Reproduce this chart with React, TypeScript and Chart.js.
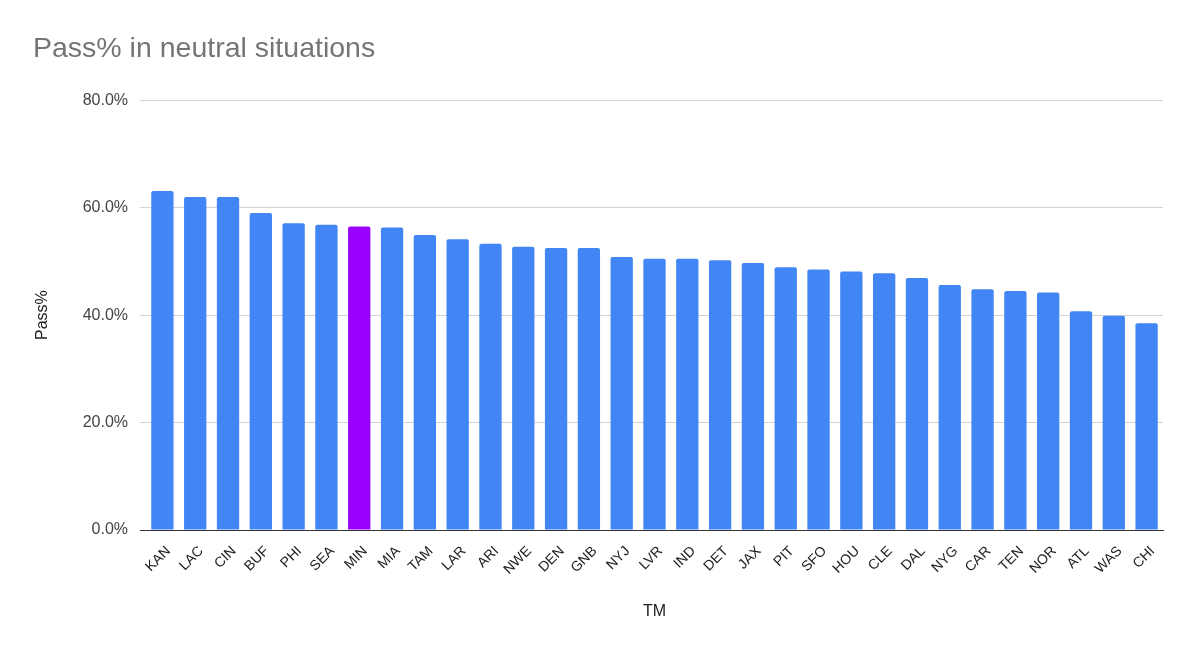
import React, { useEffect, useRef } from "react";
import { Chart, registerables } from "chart.js";

Chart.register(...registerables);

const teams = ["KAN","LAC","CIN","BUF","PHI","SEA","MIN","MIA","TAM","LAR","ARI","NWE","DEN","GNB","NYJ","LVR","IND","DET","JAX","PIT","SFO","HOU","CLE","DAL","NYG","CAR","TEN","NOR","ATL","WAS","CHI"];
const passPct = [63.1,62.0,62.0,59.0,57.1,56.8,56.5,56.3,54.9,54.1,53.3,52.7,52.5,52.5,50.8,50.5,50.5,50.2,49.7,48.9,48.5,48.1,47.8,46.9,45.6,44.8,44.5,44.2,40.7,39.9,38.5];
const highlightTeam = "MIN";
const yTicks = [0, 20, 40, 60, 80];

const BLUE = "#4285F4";
const PURPLE = "#9900FF";
const FONT = "Liberation Sans, Arial, sans-serif";

export default function App() {
  const ref = useRef<HTMLCanvasElement>(null);
  useEffect(() => {
    const canvas = ref.current!;
    const chart = new Chart(canvas, {
      type: "bar",
      data: {
        labels: teams,
        datasets: [
          {
            label: "Pass%",
            data: passPct,
            backgroundColor: teams.map((t) => (t === highlightTeam ? PURPLE : BLUE)),
            borderRadius: { topLeft: 2, topRight: 2, bottomLeft: 0, bottomRight: 0 },
            borderSkipped: "bottom",
            barPercentage: 0.68,
            categoryPercentage: 1,
          },
        ],
      },
      options: {
        animation: false,
        responsive: false,
        layout: { padding: { left: 33, right: 37, top: 0, bottom: 34 } },
        plugins: {
          legend: { display: false },
          tooltip: { enabled: false },
          title: {
            display: true,
            text: "Pass% in neutral situations",
            align: "start",
            color: "#757575",
            font: { family: FONT, size: 28.5, weight: "normal" },
            padding: { top: 32, bottom: 34 },
          },
        },
        scales: {
          x: {
            type: "category",
            grid: { display: false },
            border: { display: true, color: "#333333", width: 1 },
            ticks: {
              color: "#222222",
              font: { family: FONT, size: 14 },
              minRotation: 45,
              maxRotation: 45,
              autoSkip: false,
              padding: 5,
              labelOffset: 6,
            },
            title: {
              display: true,
              text: "TM",
              color: "#222222",
              font: { family: FONT, size: 16 },
              padding: { top: 0, bottom: 0 },
            },
            afterFit: (scale: any) => {
              scale.height = 91;
            },
          },
          y: {
            min: 0,
            max: 80,
            afterBuildTicks: (scale: any) => {
              scale.ticks = yTicks.map((v) => ({ value: v }));
            },
            ticks: {
              color: "#444444",
              font: { family: FONT, size: 16 },
              padding: 12,
              callback: (v: any) => Number(v).toFixed(1) + "%",
            },
            grid: {
              color: (ctx: any) => (ctx.tick && ctx.tick.value === 0 ? "#333333" : "#d3d3d3"),
              tickLength: 6,
              drawTicks: true,
            },
            border: { display: false },
            title: {
              display: true,
              text: "Pass%",
              color: "#222222",
              font: { family: FONT, size: 16 },
              padding: { top: 0, bottom: 0 },
            },
            afterFit: (scale: any) => {
              scale.width = 113;
            },
          },
        },
      },
    });
    return () => chart.destroy();
  }, []);
  return (
    <div style={{ position: "fixed", left: 0, top: 0, width: 1200, height: 655, background: "#fff" }}>
      <canvas ref={ref} width={1200} height={655} style={{ display: "block" }} />
    </div>
  );
}
